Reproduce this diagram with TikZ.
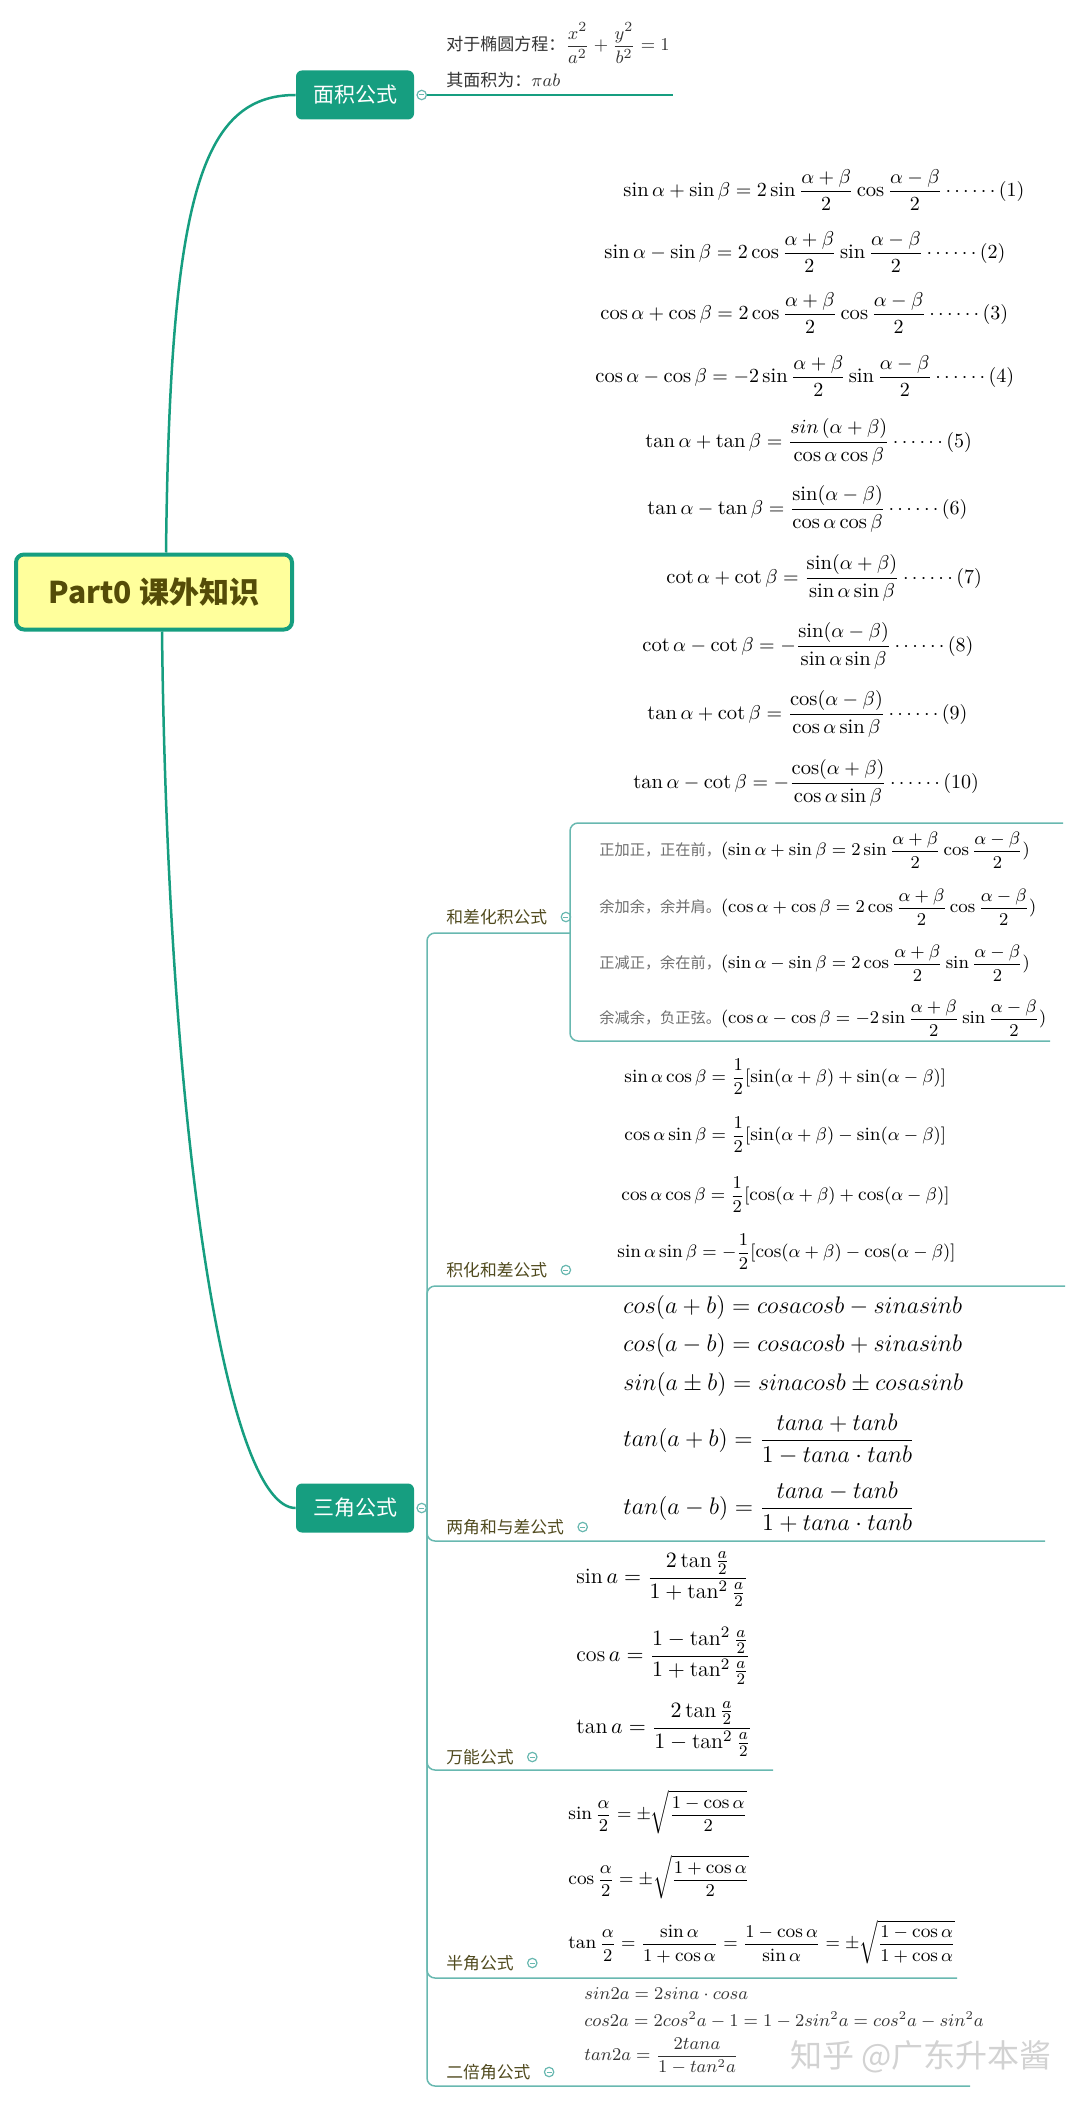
\documentclass[tikz,border=0pt]{standalone}
\usepackage{amsmath}
\usepackage{fontspec}
\newfontfamily\cjk{Noto Sans CJK SC}
\usetikzlibrary{positioning}

\definecolor{zhuti}{RGB}{22,158,128}
\definecolor{xian}{RGB}{104,184,176}
\definecolor{huang}{RGB}{255,255,156}
\definecolor{ganlan}{RGB}{84,76,8}
\definecolor{biaoqian}{RGB}{80,74,30}
\definecolor{huise}{RGB}{110,110,110}

\tikzset{
  gen/.style={draw=zhuti, line width=2pt, fill=huang, rounded corners=4pt,
    minimum width=138pt, minimum height=37.5pt, text=ganlan,
    font=\cjk\bfseries\fontsize{15}{18}\selectfont},
  zhutikuang/.style={fill=zhuti, rounded corners=3pt, minimum width=59pt,
    minimum height=24.5pt, text=white, font=\cjk\fontsize{10.5}{12}\selectfont},
  shouqi/.style={circle, draw=xian, line width=0.6pt, fill=white, inner sep=0pt,
    minimum size=4.7pt,
    path picture={\draw[xian, line width=0.5pt]
      ([xshift=1.1pt]path picture bounding box.west) --
      ([xshift=-1.1pt]path picture bounding box.east);}},
  zhugan/.style={draw=zhuti, line width=1.25pt},
  xian0/.style={draw=zhuti, line width=0.7pt},
  xian1/.style={draw=xian, line width=0.75pt, rounded corners=4pt},
  biaoqian/.style={anchor=west, inner sep=0pt, text=biaoqian,
    font=\cjk\fontsize{8.4}{10}\selectfont},
  wenzi/.style={anchor=west, inner sep=0pt, text=black!80,
    font=\cjk\fontsize{8.5}{10}\selectfont},
  gs/.style={anchor=west, inner sep=0pt, font=\fontsize{10.3}{12}\selectfont},
  kj/.style={anchor=west, inner sep=0pt, font=\cjk\fontsize{9.2}{11}\selectfont},
  jh/.style={anchor=west, inner sep=0pt, font=\fontsize{9.4}{12}\selectfont},
  lj/.style={anchor=west, inner sep=0pt, font=\fontsize{12.4}{14}\selectfont},
  wn/.style={anchor=west, inner sep=0pt, font=\fontsize{11}{13}\selectfont},
  bj/.style={anchor=west, inner sep=0pt, font=\fontsize{9.4}{12}\selectfont},
  eb/.style={anchor=west, inner sep=0pt, text=black!80, font=\fontsize{8.8}{11}\selectfont},
  shuiyin/.style={text=gray!35, font=\cjk\fontsize{16}{18}\selectfont}
}

\begin{document}
\begin{tikzpicture}[x=0.5pt, y=-0.5pt]
\useasboundingbox (0,0) rectangle (1080,2102);

% root and main topics
\node[gen] (part0) at (154,592) {Part0 课外知识};
\node[zhutikuang] (mianji) at (355,95) {面积公式};
\node[zhutikuang] (sanjiao) at (355,1508) {三角公式};
\node[shouqi, right=1pt of mianji] (mjq) {};
\node[shouqi, right=1pt of sanjiao] (sjq) {};

\draw[zhugan] ([xshift=6pt]part0.north) .. controls (170,200) and (200,95) .. (mianji.west);
\draw[zhugan] ([xshift=4pt]part0.south) .. controls (168,1150) and (228,1508) .. (sanjiao.west);

% 面积公式
\coordinate (mj-end) at (673,95);
\draw[xian0] (mjq.east) -- (mj-end);
\node[wenzi] (tuoyuan) at (446,43) {对于椭圆方程：{\fontsize{9.5}{11}\selectfont$\displaystyle\frac{x^2}{a^2}+\frac{y^2}{b^2}=1$}};
\node[wenzi] (mjwei) at (446,80) {其面积为：{\fontsize{9.5}{11}\selectfont$\pi ab$}};

% 三角公式 branches
\node[biaoqian] (hc) at (446,917) {和差化积公式};
\node[biaoqian] (jh) at (446,1270) {积化和差公式};
\node[biaoqian] (lj) at (446,1527) {两角和与差公式};
\node[biaoqian] (wn) at (446,1757) {万能公式};
\node[biaoqian] (bj) at (446,1963) {半角公式};
\node[biaoqian] (eb) at (446,2072) {二倍角公式};
\node[shouqi, right=6.5pt of hc] (hcq) {};
\node[shouqi, right=6.5pt of jh] (jhq) {};
\node[shouqi, right=6.5pt of lj] (ljq) {};
\node[shouqi, right=6.5pt of wn] (wnq) {};
\node[shouqi, right=6.5pt of bj] (bjq) {};
\node[shouqi, right=6.5pt of eb] (ebq) {};

\coordinate (hc-end) at (570,933);
\coordinate (jh-end) at (1065,1286);
\coordinate (lj-end) at (1045,1541);
\coordinate (wn-end) at (773,1770);
\coordinate (bj-end) at (957,1978);
\coordinate (eb-end) at (970,2086);
\coordinate (gs-end) at (1063,823);
\coordinate (kj-end) at (1050,1041);

\draw[xian1] (sjq.east) |- (hc-end);
\draw[xian1] (sjq.east) |- (jh-end);
\draw[xian1] (sjq.east) |- (lj-end);
\draw[xian1] (sjq.east) |- (wn-end);
\draw[xian1] (sjq.east) |- (bj-end);
\draw[xian1] (sjq.east) |- (eb-end);
\draw[xian1] (hc-end) |- (gs-end);
\draw[xian1] (hc-end) |- (kj-end);

% 和差化积: formulas (1)-(10)
\node[gs] (f1) at (623,190) {$\displaystyle\sin\alpha+\sin\beta=2\sin\frac{\alpha+\beta}{2}\cos\frac{\alpha-\beta}{2}\cdots\cdots(1)$};
\node[gs] (f2) at (604,252) {$\displaystyle\sin\alpha-\sin\beta=2\cos\frac{\alpha+\beta}{2}\sin\frac{\alpha-\beta}{2}\cdots\cdots(2)$};
\node[gs] (f3) at (600,313) {$\displaystyle\cos\alpha+\cos\beta=2\cos\frac{\alpha+\beta}{2}\cos\frac{\alpha-\beta}{2}\cdots\cdots(3)$};
\node[gs] (f4) at (595,376) {$\displaystyle\cos\alpha-\cos\beta=-2\sin\frac{\alpha+\beta}{2}\sin\frac{\alpha-\beta}{2}\cdots\cdots(4)$};
\node[gs] (f5) at (645,442) {$\displaystyle\tan\alpha+\tan\beta=\frac{sin\,(\alpha+\beta)}{\cos\alpha\cos\beta}\cdots\cdots(5)$};
\node[gs] (f6) at (647,509) {$\displaystyle\tan\alpha-\tan\beta=\frac{\sin(\alpha-\beta)}{\cos\alpha\cos\beta}\cdots\cdots(6)$};
\node[gs] (f7) at (666,578) {$\displaystyle\cot\alpha+\cot\beta=\frac{\sin(\alpha+\beta)}{\sin\alpha\sin\beta}\cdots\cdots(7)$};
\node[gs] (f8) at (642,646) {$\displaystyle\cot\alpha-\cot\beta=-\frac{\sin(\alpha-\beta)}{\sin\alpha\sin\beta}\cdots\cdots(8)$};
\node[gs] (f9) at (647,714) {$\displaystyle\tan\alpha+\cot\beta=\frac{\cos(\alpha-\beta)}{\cos\alpha\sin\beta}\cdots\cdots(9)$};
\node[gs] (f10) at (633,783) {$\displaystyle\tan\alpha-\cot\beta=-\frac{\cos(\alpha+\beta)}{\cos\alpha\sin\beta}\cdots\cdots(10)$};

% 和差化积: mnemonics
\node[kj] (kj1) at (599,850) {{\color{huise}\fontsize{7.6}{9}\selectfont 正加正，正在前，}$\displaystyle(\sin\alpha+\sin\beta=2\sin\frac{\alpha+\beta}{2}\cos\frac{\alpha-\beta}{2})$};
\node[kj] (kj2) at (599,907) {{\color{huise}\fontsize{7.6}{9}\selectfont 余加余，余并肩。}$\displaystyle(\cos\alpha+\cos\beta=2\cos\frac{\alpha+\beta}{2}\cos\frac{\alpha-\beta}{2})$};
\node[kj] (kj3) at (599,963) {{\color{huise}\fontsize{7.6}{9}\selectfont 正减正，余在前，}$\displaystyle(\sin\alpha-\sin\beta=2\cos\frac{\alpha+\beta}{2}\sin\frac{\alpha-\beta}{2})$};
\node[kj] (kj4) at (599,1018) {{\color{huise}\fontsize{7.6}{9}\selectfont 余减余，负正弦。}$\displaystyle(\cos\alpha-\cos\beta=-2\sin\frac{\alpha+\beta}{2}\sin\frac{\alpha-\beta}{2})$};

% 积化和差
\node[jh] (jh1) at (624,1077) {$\displaystyle\sin\alpha\cos\beta=\frac{1}{2}[\sin(\alpha+\beta)+\sin(\alpha-\beta)]$};
\node[jh] (jh2) at (624,1135) {$\displaystyle\cos\alpha\sin\beta=\frac{1}{2}[\sin(\alpha+\beta)-\sin(\alpha-\beta)]$};
\node[jh] (jh3) at (621,1195) {$\displaystyle\cos\alpha\cos\beta=\frac{1}{2}[\cos(\alpha+\beta)+\cos(\alpha-\beta)]$};
\node[jh] (jh4) at (617,1252) {$\displaystyle\sin\alpha\sin\beta=-\frac{1}{2}[\cos(\alpha+\beta)-\cos(\alpha-\beta)]$};

% 两角和与差
\node[lj] (lj1) at (623,1307) {$cos(a+b)=cosacosb-sinasinb$};
\node[lj] (lj2) at (623,1345) {$cos(a-b)=cosacosb+sinasinb$};
\node[lj] (lj3) at (623,1384) {$sin(a\pm b)=sinacosb\pm cosasinb$};
\node[lj] (lj4) at (623,1439) {$\displaystyle tan(a+b)=\frac{tana+tanb}{1-tana\cdot tanb}$};
\node[lj] (lj5) at (623,1507) {$\displaystyle tan(a-b)=\frac{tana-tanb}{1+tana\cdot tanb}$};

% 万能公式
\node[wn] (wn1) at (576,1579) {$\displaystyle\sin a=\frac{2\tan\frac{a}{2}}{1+\tan^2\frac{a}{2}}$};
\node[wn] (wn2) at (576,1656) {$\displaystyle\cos a=\frac{1-\tan^2\frac{a}{2}}{1+\tan^2\frac{a}{2}}$};
\node[wn] (wn3) at (576,1729) {$\displaystyle\tan a=\frac{2\tan\frac{a}{2}}{1-\tan^2\frac{a}{2}}$};

% 半角公式
\node[bj] (bj1) at (568,1812) {$\displaystyle\sin\frac{\alpha}{2}=\pm\sqrt{\frac{1-\cos\alpha}{2}}$};
\node[bj] (bj2) at (568,1877) {$\displaystyle\cos\frac{\alpha}{2}=\pm\sqrt{\frac{1+\cos\alpha}{2}}$};
\node[bj] (bj3) at (568,1942) {$\displaystyle\tan\frac{\alpha}{2}=\frac{\sin\alpha}{1+\cos\alpha}=\frac{1-\cos\alpha}{\sin\alpha}=\pm\sqrt{\frac{1-\cos\alpha}{1+\cos\alpha}}$};

% 二倍角公式
\node[eb] (eb1) at (584,1994) {$sin2a=2sina\cdot cosa$};
\node[eb] (eb2) at (584,2020) {$cos2a=2cos^2a-1=1-2sin^2a=cos^2a-sin^2a$};
\node[eb] (eb3) at (584,2056) {$\displaystyle tan2a=\frac{2tana}{1-tan^2a}$};

\node[shuiyin] (sy) at (921,2057) {知乎 @广东升本酱};
\end{tikzpicture}
\end{document}
